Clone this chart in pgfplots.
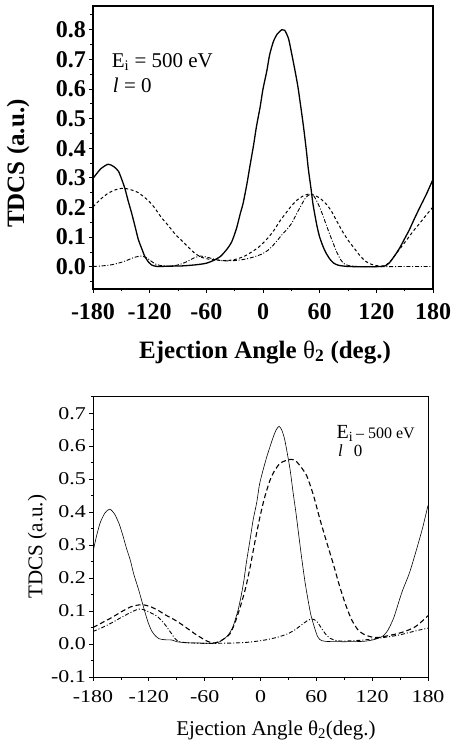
\documentclass[border=0pt]{standalone}
\usepackage{pgfplots}
\pgfplotsset{compat=1.18}
\usepackage{fontspec}
\setmainfont{Liberation Serif}
\newfontfamily\widefont{Liberation Serif}[FakeStretch=1.22]
\begin{document}
\begin{tikzpicture}[x=1pt,y=1pt]
\useasboundingbox (0,0) rectangle (453,747);
% ---------------- top panel ----------------
\begin{axis}[
  at={(93pt,458pt)}, anchor=south west,
  scale only axis, width=340pt, height=283pt,
  xmin=-180, xmax=180, ymin=-0.075, ymax=0.88,
  xtick={-180,-120,-60,0,60,120,180},
  xticklabels={-180,-120,-60,0,60,120,180},
  ytick={0,0.1,0.2,0.3,0.4,0.5,0.6,0.7,0.8},
  yticklabels={0.0,0.1,0.2,0.3,0.4,0.5,0.6,0.7,0.8},
  minor xtick={-150,-90,-30,30,90,150},
  minor ytick={-0.05,0.05,0.15,0.25,0.35,0.45,0.55,0.65,0.75,0.85},
  tick pos=left, tick align=outside,
  major tick length=4pt, minor tick length=2.5pt,
  every tick/.style={line width=0.9pt,black},
  axis line style={line width=1.3pt},
  ticklabel style={font=\fontsize{24}{24}\selectfont\bfseries},
  yticklabel style={anchor=east,inner sep=0pt,xshift=-3pt},
  xticklabel style={anchor=north,inner sep=0pt,yshift=-10pt},
  xlabel={Ejection Angle {\mdseries θ}\textsubscript{2} (deg.)},
  ylabel={TDCS (a.u.)},
  label style={font=\fontsize{25}{25}\selectfont\bfseries},
  xlabel style={at={(axis description cs:0.506,-0.223)},anchor=center},
  ylabel style={at={(axis description cs:-0.22,0.443)},anchor=center},
  clip=true,
]
\addplot[black,line width=1.3pt,smooth,tension=0.4] coordinates {
(-180,0.298) (-172,0.33) (-164,0.346) (-158,0.338) (-153,0.322) (-149,0.29) (-146,0.262) (-143,0.225) (-139,0.18) (-135,0.13) (-132,0.092) (-128,0.058) (-125,0.034) (-121,0.015) (-118,0.006) (-112,0.001) (-100,0.002) (-85,0.003) (-70,0.007) (-60,0.012) (-52,0.022) (-45,0.035) (-38,0.06) (-33,0.085) (-28,0.13) (-24,0.18) (-21,0.215) (-17,0.28) (-14,0.337) (-10,0.41) (-7,0.472) (-3,0.54) (0,0.6) (4,0.66) (7,0.715) (11,0.76) (15,0.785) (20,0.8) (23,0.798) (27,0.77) (30,0.725) (34,0.66) (37,0.607) (40,0.54) (43,0.47) (46,0.39) (48,0.33) (51,0.26) (53,0.21) (57,0.14) (60,0.1) (64,0.065) (67,0.045) (71,0.025) (75,0.012) (80,0.005) (90,0.001) (110,0) (125,0.001) (130,0.004) (134,0.014) (140,0.04) (145,0.065) (150,0.095) (155,0.125) (160,0.16) (166,0.2) (173,0.245) (180,0.295)
};
\addplot[black,line width=1pt,dash pattern=on 3pt off 2.5pt,smooth,tension=0.4] coordinates {
(-180,0.202) (-172,0.228) (-164,0.248) (-156,0.26) (-148,0.265) (-140,0.26) (-132,0.25) (-122,0.225) (-115,0.2) (-108,0.168) (-100,0.138) (-93,0.11) (-86,0.088) (-79,0.066) (-72,0.045) (-65,0.032) (-58,0.026) (-50,0.023) (-42,0.021) (-35,0.022) (-28,0.026) (-20,0.035) (-12,0.05) (-5,0.065) (0,0.08) (6,0.1) (12,0.125) (18,0.155) (24,0.18) (30,0.205) (36,0.225) (42,0.238) (48,0.245) (54,0.242) (60,0.232) (66,0.215) (72,0.19) (78,0.155) (84,0.12) (90,0.09) (96,0.065) (102,0.04) (108,0.02) (115,0.008) (122,0.003) (128,0.003) (134,0.015) (140,0.04) (146,0.065) (152,0.09) (159,0.12) (166,0.147) (173,0.175) (180,0.202)
};
\addplot[black,line width=0.9pt,dash pattern=on 4pt off 1.8pt on 1pt off 1.8pt,smooth,tension=0.4] coordinates {
(-180,0.001) (-170,0.003) (-160,0.007) (-150,0.015) (-143,0.023) (-136,0.032) (-129,0.036) (-123,0.03) (-118,0.018) (-113,0.008) (-106,0.003) (-95,0.003) (-88,0.008) (-80,0.018) (-73,0.03) (-66,0.036) (-60,0.033) (-52,0.026) (-45,0.021) (-38,0.02) (-30,0.021) (-20,0.025) (-12,0.031) (-5,0.038) (0,0.045) (5,0.055) (10,0.07) (15,0.088) (20,0.108) (25,0.125) (30,0.145) (35,0.175) (40,0.205) (45,0.232) (50,0.245) (54,0.238) (58,0.215) (62,0.185) (66,0.15) (70,0.115) (74,0.082) (78,0.05) (82,0.025) (86,0.01) (92,0.003) (100,0.001) (120,0) (150,0.001) (180,0.001)
};
\node[anchor=base west,font=\fontsize{21}{21}\selectfont,inner sep=0pt] at (rel axis cs:0.055,0.784) {E\textsubscript{i} = 500 eV};
\node[anchor=base west,font=\fontsize{21}{21}\selectfont,inner sep=0pt] at (rel axis cs:0.058,0.693) {\textit{l} = 0};
\end{axis}
% ---------------- bottom panel ----------------
\begin{axis}[
  at={(93pt,70pt)}, anchor=south west,
  scale only axis, width=335pt, height=281pt,
  xmin=-180, xmax=180, ymin=-0.1, ymax=0.752,
  xtick={-180,-120,-60,0,60,120,180},
  xticklabels={-180,-120,-60,0,60,120,180},
  ytick={-0.1,0,0.1,0.2,0.3,0.4,0.5,0.6,0.7},
  yticklabels={-0.1,0.0,0.1,0.2,0.3,0.4,0.5,0.6,0.7},
  minor xtick={-150,-90,-30,30,90,150},
  minor ytick={-0.05,0.05,0.15,0.25,0.35,0.45,0.55,0.65,0.75},
  tick pos=left, tick align=outside,
  major tick length=4pt, minor tick length=2.5pt,
  every tick/.style={line width=0.7pt,black},
  axis line style={line width=0.9pt},
  ticklabel style={font=\widefont\fontsize{18}{18}\selectfont},
  yticklabel style={anchor=east,inner sep=0pt,xshift=-3pt},
  xticklabel style={anchor=north,inner sep=0pt,yshift=-9pt},
  xlabel={Ejection Angle θ\textsubscript{2}(deg.)},
  ylabel={TDCS (a.u.)},
  label style={font=\fontsize{21}{21}\selectfont},
  xlabel style={at={(axis description cs:0.546,-0.189)},anchor=center},
  ylabel style={at={(axis description cs:-0.166,0.464)},anchor=center},
  clip=true,
]
\addplot[black,line width=0.6pt,smooth,tension=0.4] coordinates {
(-180,0.28) (-176,0.33) (-172,0.37) (-167,0.398) (-162,0.409) (-157,0.395) (-152,0.365) (-148,0.33) (-144,0.29) (-140,0.255) (-136,0.21) (-131,0.165) (-127,0.125) (-124,0.095) (-120.6,0.064) (-117,0.04) (-113,0.025) (-109,0.016) (-103,0.013) (-95,0.012) (-90,0.007) (-80,0.004) (-65,0.003) (-55,0.002) (-48,0.003) (-43,0.008) (-38,0.018) (-34,0.03) (-30,0.05) (-27,0.075) (-24,0.104) (-21,0.143) (-18,0.19) (-15,0.25) (-11,0.32) (-8,0.375) (-4,0.43) (-1,0.485) (3,0.53) (7,0.57) (11,0.605) (14,0.63) (17,0.65) (20,0.66) (23,0.648) (26,0.62) (29,0.575) (32,0.525) (35,0.46) (38,0.4) (42,0.31) (45,0.245) (48,0.185) (51,0.135) (54,0.09) (58,0.05) (61,0.025) (64,0.013) (70,0.008) (90,0.007) (110,0.008) (120,0.012) (126,0.017) (132,0.025) (136,0.038) (139,0.053) (143,0.078) (146,0.104) (150,0.14) (153,0.165) (160,0.215) (167,0.28) (174,0.35) (180,0.42)
};
\addplot[black,line width=1.1pt,dash pattern=on 5pt off 3pt,smooth,tension=0.4] coordinates {
(-180,0.05) (-170,0.065) (-160,0.08) (-150,0.097) (-140,0.112) (-132,0.118) (-126,0.119) (-118,0.113) (-110,0.102) (-102,0.088) (-94,0.076) (-86,0.062) (-78,0.046) (-70,0.03) (-62,0.016) (-56,0.007) (-50,0.003) (-44,0.008) (-38,0.018) (-33,0.03) (-28,0.06) (-22,0.11) (-16,0.17) (-11,0.235) (-6,0.31) (-1,0.38) (4,0.44) (10,0.495) (15,0.525) (21,0.548) (27,0.556) (33,0.56) (38,0.555) (44,0.535) (50,0.508) (57,0.45) (64,0.377) (71,0.31) (78,0.245) (84,0.185) (89,0.14) (94,0.1) (99,0.068) (105,0.042) (112,0.028) (120,0.021) (127,0.02) (135,0.024) (145,0.03) (155,0.038) (165,0.05) (172,0.065) (180,0.086)
};
\addplot[black,line width=0.9pt,dash pattern=on 4pt off 2pt on 1pt off 2pt,smooth,tension=0.4] coordinates {
(-180,0.038) (-170,0.05) (-160,0.064) (-150,0.08) (-140,0.095) (-133,0.104) (-128,0.106) (-122,0.1) (-116,0.092) (-111,0.084) (-106,0.07) (-101,0.053) (-96,0.033) (-92,0.017) (-88,0.008) (-80,0.004) (-60,0.002) (-50,0.002) (-30,0.003) (-15,0.005) (0,0.01) (10,0.015) (20,0.022) (30,0.032) (38,0.045) (45,0.06) (50,0.07) (55,0.076) (60,0.07) (65,0.05) (70,0.03) (75,0.017) (82,0.01) (90,0.009) (100,0.01) (110,0.012) (120,0.015) (128,0.018) (140,0.023) (150,0.028) (160,0.035) (170,0.042) (180,0.048)
};
\node[anchor=base west,font=\fontsize{20}{20}\selectfont,inner sep=0pt] at (rel axis cs:0.727,0.849) {E\textsubscript{i}{\fontsize{16}{16}\selectfont\,– 500 eV}};
\node[anchor=base west,font=\fontsize{17}{17}\selectfont,inner sep=0pt] at (rel axis cs:0.731,0.784) {\textit{l}\hspace{11pt}0};
\end{axis}
\end{tikzpicture}
\end{document}
